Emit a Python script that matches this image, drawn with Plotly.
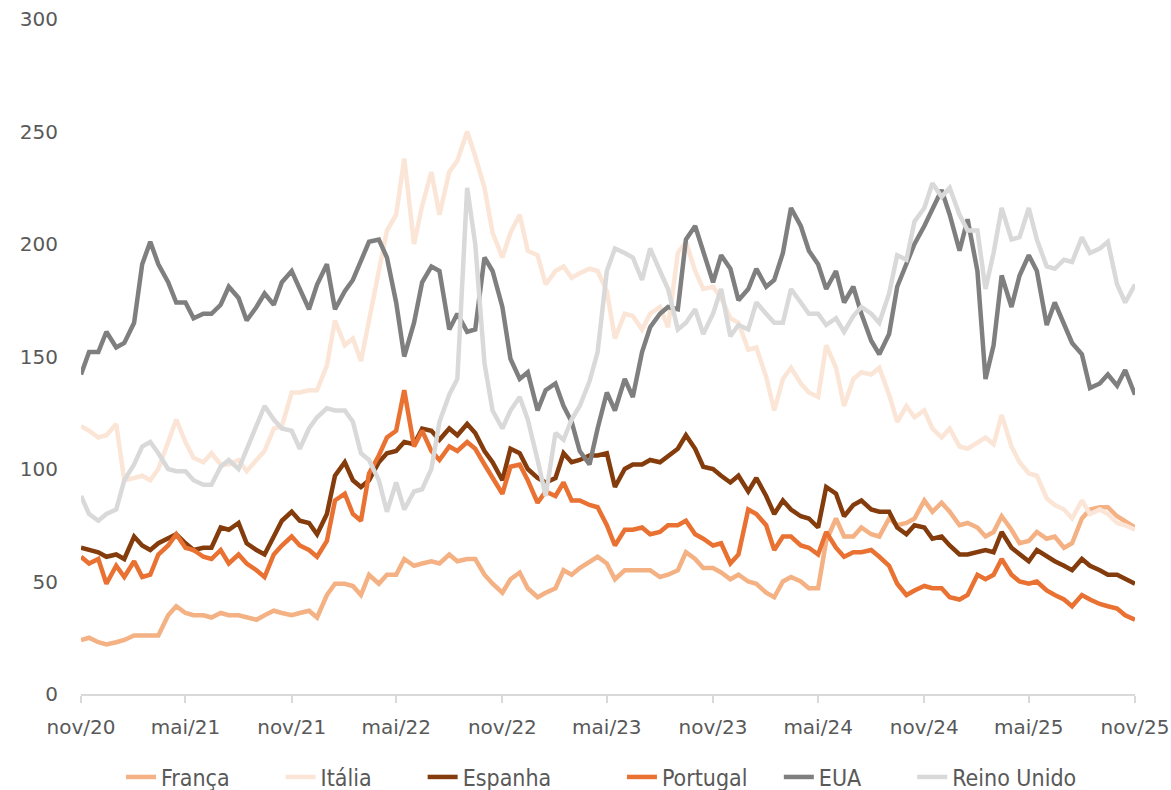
import pandas as pd
import plotly.graph_objects as go

# Semi-monthly observations, Nov 2020 -> Nov 2025 (1st and 15th of each month)
dates = pd.date_range("2020-11-01", "2025-11-01", freq="SMS")

franca = [24, 25, 23, 22, 23, 24, 26, 26, 26, 26,
          35, 39, 36, 35, 35, 34, 36, 35, 35, 34,
          33, 35, 37, 36, 35, 36, 37, 34, 44, 49,
          49, 48, 44, 53, 49, 53, 53, 60, 57, 58,
          59, 58, 62, 59, 60, 60, 53, 49, 45, 51,
          54, 47, 43, 45, 47, 55, 53, 56, 59, 61,
          58, 51, 55, 55, 55, 55, 52, 53, 55, 63,
          60, 56, 56, 54, 51, 53, 50, 49, 45, 43,
          50, 52, 50, 47, 47, 68, 78, 70, 70, 74,
          71, 70, 78, 75, 76, 78, 86, 81, 85, 81,
          75, 76, 74, 70, 72, 79, 73, 67, 68, 72,
          69, 70, 65, 67, 78, 82, 83, 83, 79, 77,
          74]

italia = [119, 117, 114, 115, 120, 95, 96, 97, 95, 100,
          112, 122, 112, 105, 103, 107, 102, 102, 104, 99,
          104, 108, 118, 119, 134, 134, 135, 135, 146, 166,
          155, 158, 148, 167, 188, 206, 213, 238, 200, 217,
          232, 213, 232, 237, 250, 239, 225, 205, 194, 205,
          213, 197, 195, 182, 188, 190, 185, 187, 189, 188,
          179, 158, 169, 168, 162, 169, 172, 163, 196, 201,
          188, 180, 181, 176, 167, 165, 153, 154, 141, 126,
          140, 145, 138, 134, 132, 155, 145, 128, 140, 143,
          142, 145, 133, 121, 128, 123, 126, 118, 114, 118,
          110, 109, 112, 114, 111, 124, 110, 103, 98, 97,
          87, 84, 82, 78, 86, 80, 82, 80, 76, 75,
          73]

espanha = [65, 64, 63, 61, 62, 60, 70, 66, 64, 67,
           69, 71, 67, 64, 65, 65, 74, 73, 76, 67,
           64, 62, 70, 77, 81, 77, 76, 71, 80, 97,
           103, 95, 92, 95, 103, 107, 108, 112, 111, 118,
           117, 113, 118, 115, 120, 116, 108, 103, 95, 109,
           107, 100, 96, 94, 96, 107, 103, 104, 106, 106,
           107, 92, 100, 102, 102, 104, 103, 106, 109, 115,
           109, 101, 100, 97, 94, 97, 90, 96, 88, 80,
           86, 82, 79, 78, 74, 92, 89, 79, 84, 86,
           82, 81, 81, 74, 71, 75, 74, 69, 70, 66,
           62, 62, 63, 64, 63, 72, 65, 62, 59, 64,
           61, 59, 57, 55, 60, 57, 55, 53, 53, 51,
           49]

portugal = [61, 58, 60, 49, 57, 52, 59, 52, 53, 62,
            66, 71, 65, 64, 61, 60, 64, 58, 62, 58,
            55, 52, 62, 66, 70, 66, 64, 61, 68, 86,
            89, 80, 77, 98, 106, 114, 117, 135, 110, 117,
            108, 104, 110, 108, 112, 109, 102, 96, 89, 101,
            102, 95, 85, 90, 88, 94, 86, 86, 84, 83,
            75, 66, 73, 73, 74, 71, 72, 75, 75, 77,
            71, 69, 66, 67, 58, 62, 82, 80, 75, 64,
            70, 70, 66, 65, 62, 72, 65, 61, 63, 63,
            64, 61, 57, 49, 44, 46, 48, 47, 47, 43,
            42, 44, 53, 51, 53, 60, 53, 50, 49, 50,
            46, 44, 42, 39, 44, 42, 40, 39, 38, 35,
            33]

eua = [142, 152, 152, 161, 154, 156, 165, 191, 201, 191,
       183, 174, 174, 167, 169, 169, 173, 181, 176, 166,
       172, 178, 173, 183, 188, 180, 171, 182, 191, 171,
       179, 184, 192, 201, 202, 194, 174, 150, 165, 183,
       190, 188, 162, 169, 161, 162, 194, 188, 172, 149,
       140, 143, 126, 135, 138, 128, 121, 108, 102, 118,
       134, 126, 140, 132, 152, 163, 169, 172, 171, 202,
       208, 196, 183, 195, 189, 175, 180, 189, 181, 184,
       196, 216, 208, 197, 191, 180, 188, 174, 181, 169,
       157, 151, 160, 181, 191, 200, 208, 215, 224, 213,
       197, 211, 188, 140, 155, 186, 172, 186, 195, 188,
       164, 174, 165, 156, 151, 136, 138, 142, 137, 144,
       133]

reino_unido = [88, 80, 77, 80, 82, 95, 102, 110, 112, 107,
               100, 99, 99, 95, 93, 93, 101, 104, 100, 109,
               120, 128, 122, 118, 117, 109, 118, 123, 127, 126,
               126, 121, 107, 104, 95, 81, 94, 82, 90, 91,
               100, 121, 133, 140, 225, 200, 147, 126, 118, 126,
               132, 122, 104, 88, 116, 113, 122, 128, 139, 152,
               188, 198, 196, 194, 184, 198, 188, 180, 162, 165,
               171, 160, 169, 180, 159, 164, 162, 174, 169, 165,
               165, 180, 174, 169, 169, 164, 167, 161, 168, 172,
               169, 165, 178, 195, 193, 210, 216, 227, 221, 225,
               213, 206, 206, 180, 196, 216, 202, 203, 216, 202,
               190, 189, 193, 192, 203, 196, 198, 201, 182, 174,
               182]

tick_dates = ["2020-11-01", "2021-05-01", "2021-11-01", "2022-05-01",
              "2022-11-01", "2023-05-01", "2023-11-01", "2024-05-01",
              "2024-11-01", "2025-05-01", "2025-11-01"]
tick_labels = ["nov/20", "mai/21", "nov/21", "mai/22", "nov/22", "mai/23",
               "nov/23", "mai/24", "nov/24", "mai/25", "nov/25"]

# name, values, colour, trailing non-breaking spaces that space out the legend row
series = [
    ("França", franca, "#F4B183", 7),
    ("Itália", italia, "#FBE5D6", 7),
    ("Espanha", espanha, "#843C0C", 10),
    ("Portugal", portugal, "#E97132", 4),
    ("EUA", eua, "#7F7F7F", 7),
    ("Reino Unido", reino_unido, "#D9D9D9", 0),
]

fig = go.Figure()
for name, values, color, pad in series:
    fig.add_trace(go.Scatter(
        x=dates, y=values, name=name + "\u00a0" * pad, mode="lines",
        line=dict(color=color, width=4.5),
    ))

tick_font = dict(family="DejaVu Sans, Liberation Sans, sans-serif", size=20, color="#595959")

fig.update_layout(
    width=1171, height=790,
    margin=dict(l=81, r=36, t=19, b=96, autoexpand=False),
    paper_bgcolor="white", plot_bgcolor="white",
    showlegend=True,
    legend=dict(
        orientation="h",
        xref="container", x=121 / 1171, xanchor="left",
        yref="container", y=1 - 777 / 790, yanchor="middle",
        font=dict(family="DejaVu Sans Condensed, Liberation Sans Narrow, sans-serif",
                  size=23, color="#595959"),
        bgcolor="rgba(0,0,0,0)",
    ),
    xaxis=dict(
        type="date", range=[tick_dates[0], tick_dates[-1]],
        tickvals=tick_dates, ticktext=tick_labels,
        showgrid=False, zeroline=False, automargin=False,
        showline=True, linecolor="#D9D9D9", linewidth=1.5,
        ticks="outside", ticklen=7, tickcolor="#D9D9D9", tickwidth=1.5,
        tickfont=tick_font, ticklabelstandoff=7,
    ),
    yaxis=dict(
        range=[0, 300], tickvals=[0, 50, 100, 150, 200, 250, 300],
        showgrid=False, zeroline=False, showline=False, automargin=False,
        tickfont=tick_font, ticklabelstandoff=22,
    ),
)

fig.write_html("out.html")
